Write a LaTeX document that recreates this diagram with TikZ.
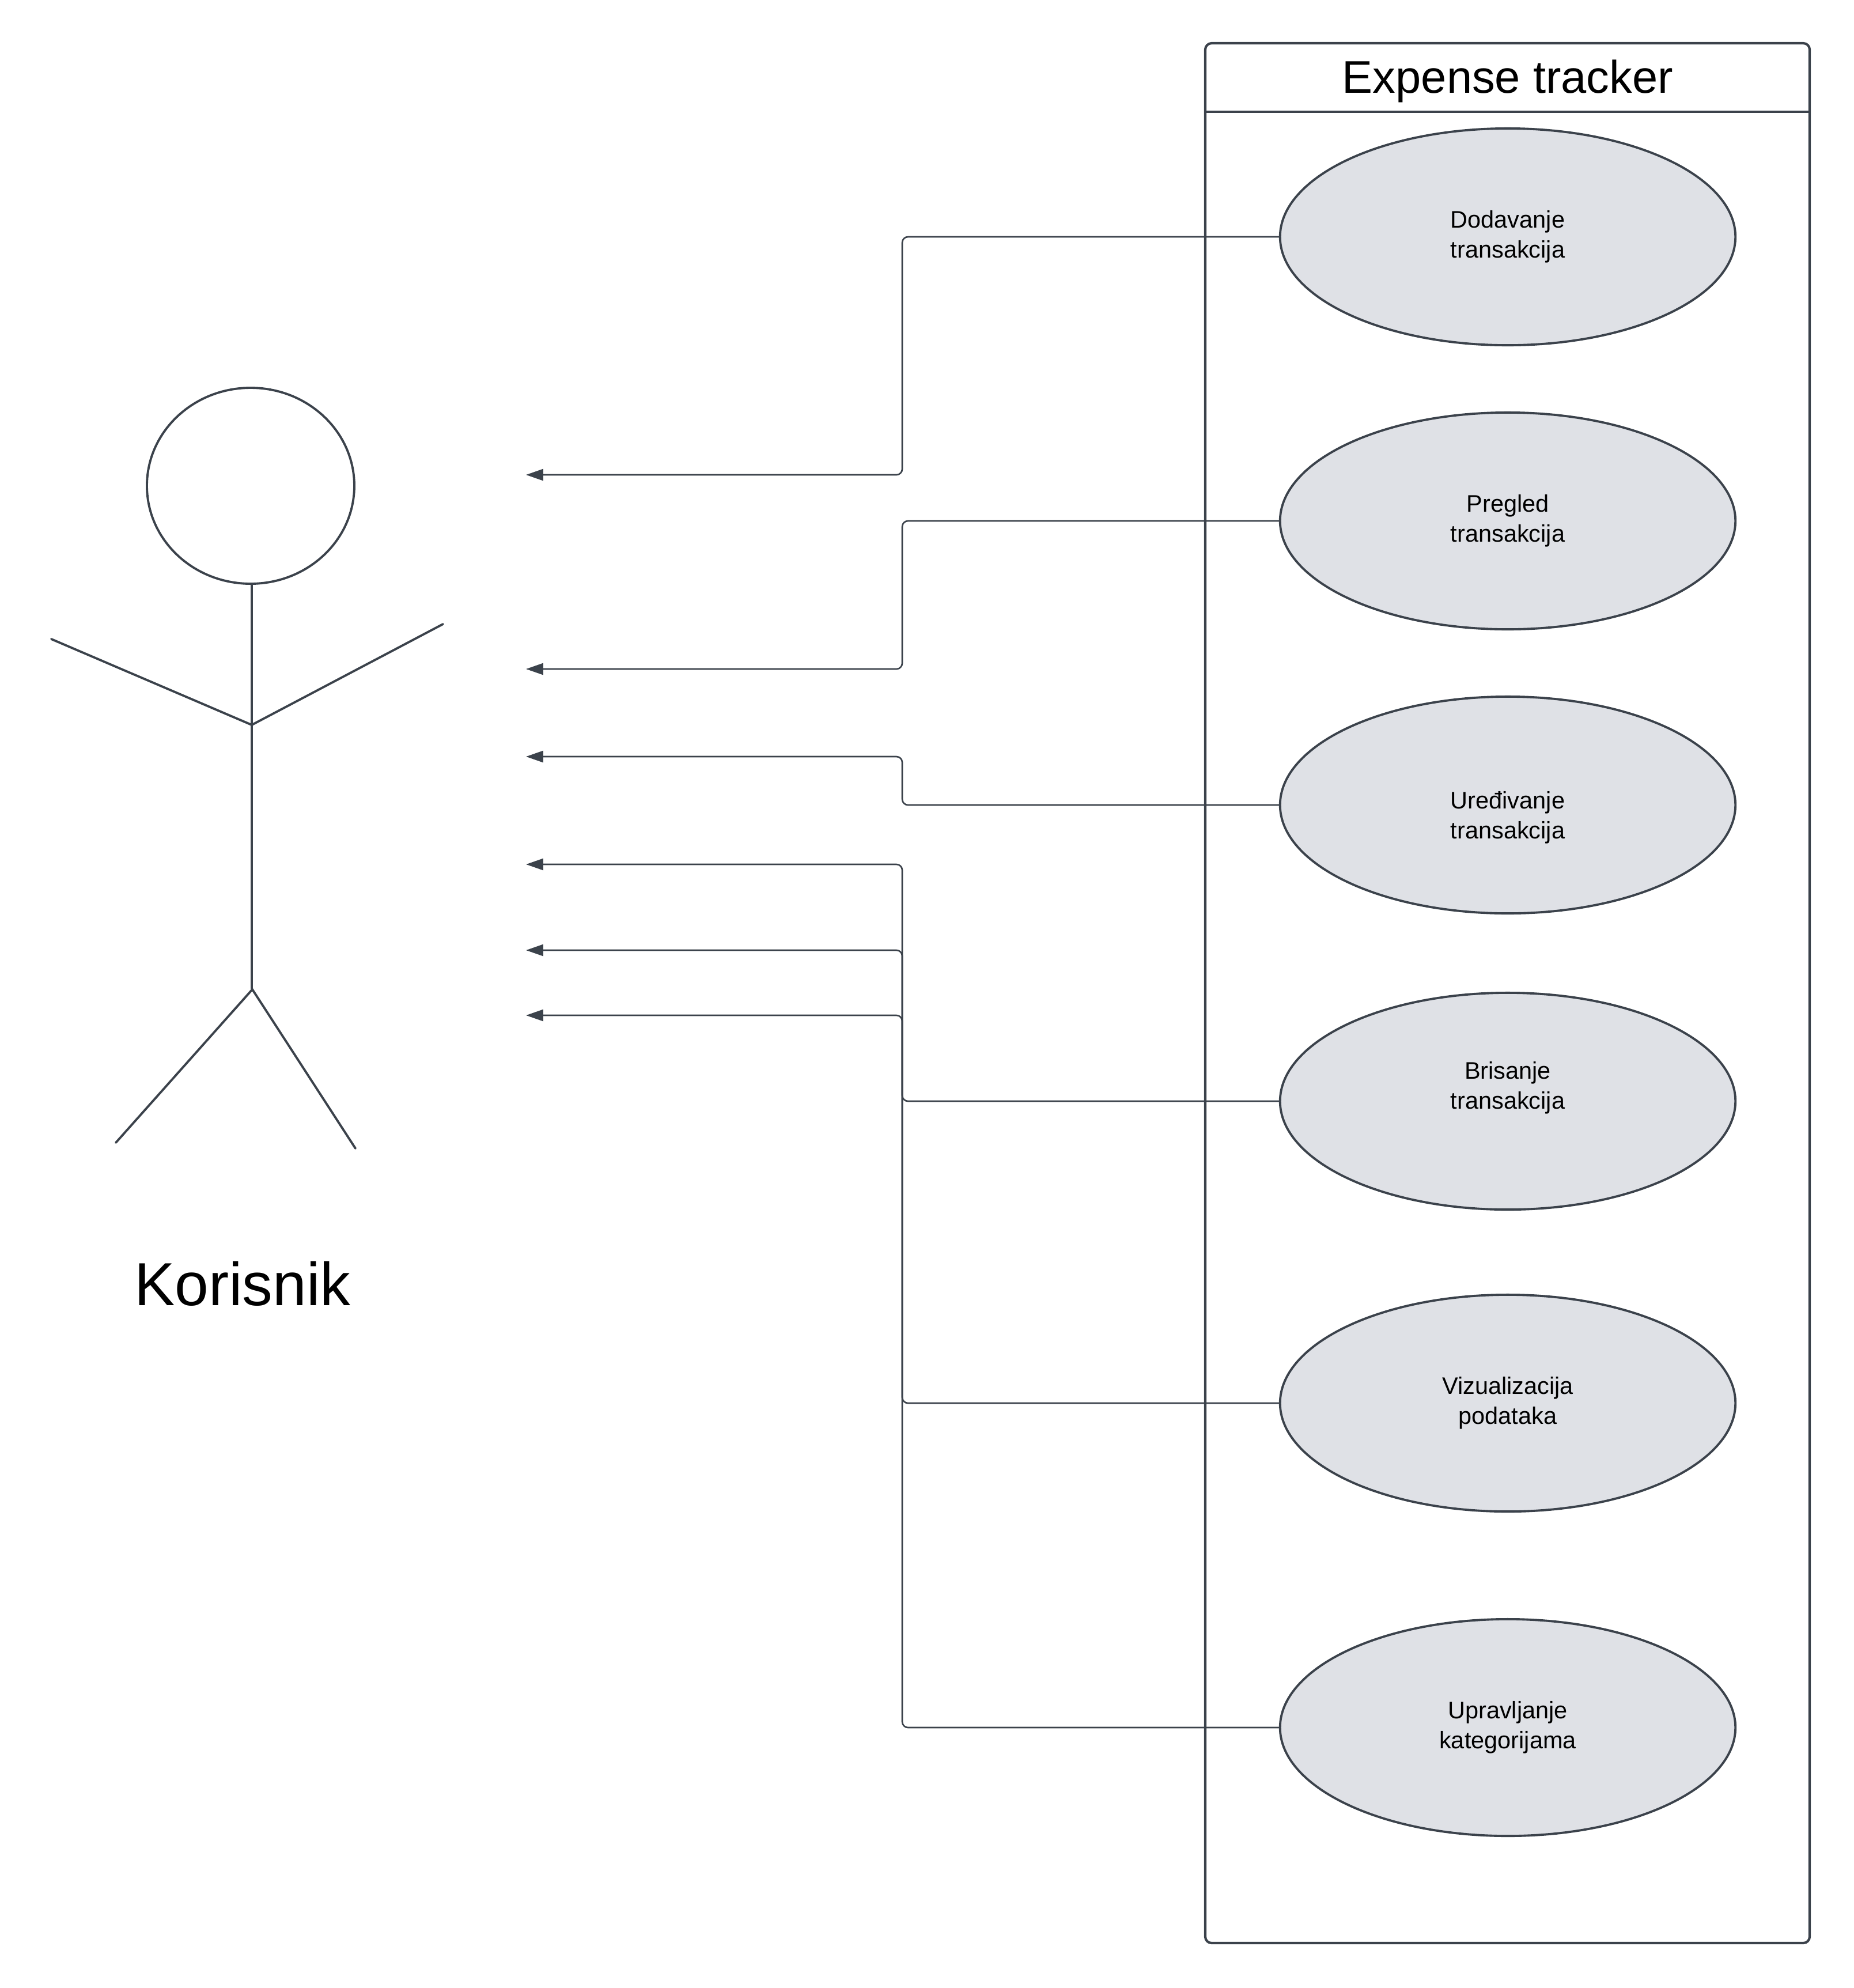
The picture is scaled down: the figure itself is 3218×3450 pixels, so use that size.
\documentclass[tikz,border=0pt]{standalone}
\usepackage{fontspec}
\setmainfont{Liberation Sans}
\usepackage{tikz}
\usepackage{xcolor}
\usetikzlibrary{arrows.meta,shapes.geometric,positioning,calc}

\definecolor{umlline}{RGB}{59,66,75}
\definecolor{umlfill}{RGB}{223,225,230}

\begin{document}
\begin{tikzpicture}[x=0.01cm,y=-0.01cm,>={Triangle[length=8.5pt,width=5.7pt]}]
\tikzset{
				usecase/.style={
					ellipse,
					draw=umlline,
					line width=1.1pt,
					fill=umlfill,
					minimum width=7.9cm,
					minimum height=3.76cm,
					align=center,
					inner sep=0pt,
					font=\fontsize{11.8}{14.8}\selectfont
				},
				casetext/.style={align=center,inner sep=0pt,font=\fontsize{11.8}{14.8}\selectfont},
				uselink/.style={->,draw=umlline,line width=0.75pt,rounded corners=1mm},
				stick/.style={draw=umlline,line width=1.1pt,line cap=round}
			}
			\useasboundingbox (0,0) rectangle (3218,3450);

			% system boundary
			\draw[umlline,line width=1.2pt,rounded corners=1.1mm] (2092,75) rectangle (3141,3372);
			\draw[umlline,line width=1.2pt] (2092,194) -- (3141,194);
			\node[font=\fontsize{22.6}{26}\selectfont] (title) at (2617,141) {Expense tracker};

			% actor
			\draw[stick] (435,843) ellipse [x radius=180,y radius=170];
			\draw[stick] (437,1013) -- (437,1715);
			\draw[stick] (89,1109) -- (437,1258) -- (769,1083);
			\draw[stick] (201,1983) -- (438,1717) -- (617,1993);
			\node[font=\fontsize{30}{35}\selectfont] (actor) at (421,2228) {Korisnik};

			% free ends next to the actor
			\coordinate (a1) at (913,824);
			\coordinate (a2) at (913,1161);
			\coordinate (a3) at (913,1313);
			\coordinate (a4) at (913,1500);
			\coordinate (a5) at (913,1649);
			\coordinate (a6) at (913,1762);
			\coordinate (jx) at (1566,0);

			\node[usecase] (dod) at (2617,411) {Dodavanje\\transakcija};
			\node[usecase] (pre) at (2617,904) {Pregled\\transakcija};
			\node[usecase,label={[casetext,yshift=-0.22cm]center:Uređivanje\\transakcija}] (ure) at (2617,1397) {};
			\node[usecase,label={[casetext,yshift=0.23cm]center:Brisanje\\transakcija}] (bri) at (2617,1911) {};
			\node[usecase] (viz) at (2617,2435) {Vizualizacija\\podataka};
			\node[usecase] (upr) at (2617,2998) {Upravljanje\\kategorijama};

			\draw[uselink] (dod.west) -- (dod.west -| jx) |- (a1);
			\draw[uselink] (pre.west) -- (pre.west -| jx) |- (a2);
			\draw[uselink] (ure.west) -- (ure.west -| jx) |- (a3);
			\draw[uselink] (bri.west) -- (bri.west -| jx) |- (a4);
			\draw[uselink] (viz.west) -- (viz.west -| jx) |- (a5);
			\draw[uselink] (upr.west) -- (upr.west -| jx) |- (a6);
\end{tikzpicture}
\end{document}
